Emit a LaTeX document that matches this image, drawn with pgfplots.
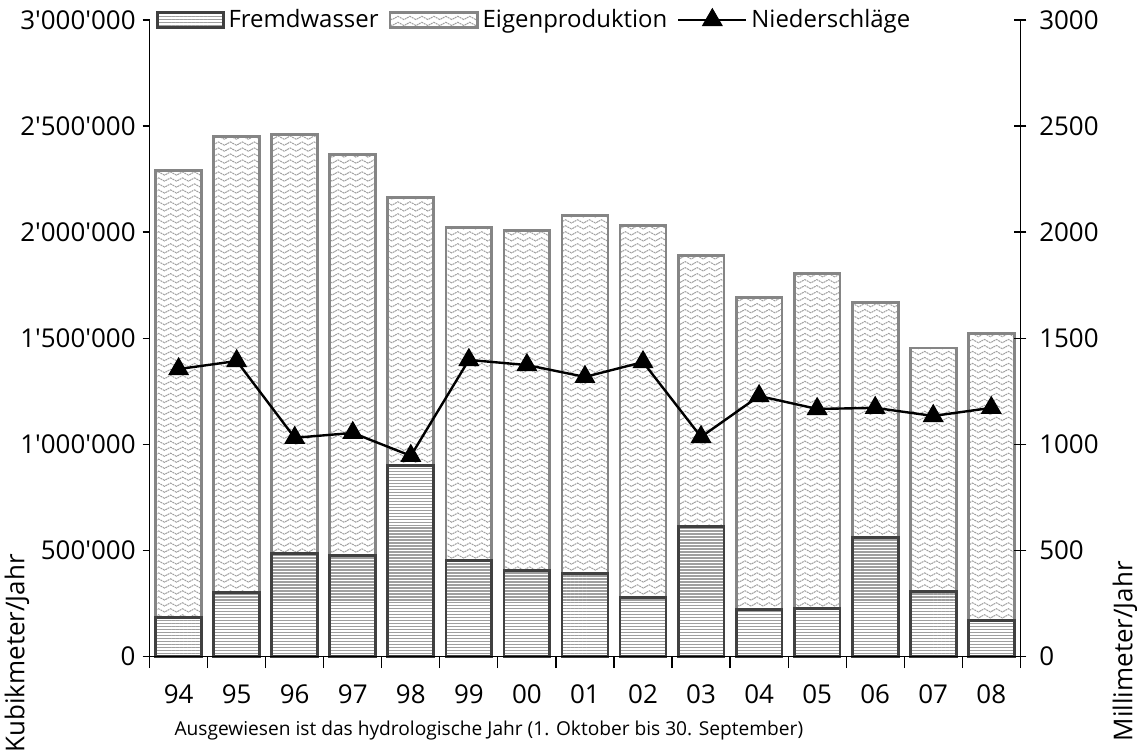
\documentclass[border=0pt]{standalone}
\usepackage{fontspec}
\setmainfont{Open Sans}
\usepackage{pgfplots}
\usepackage{pgfplotstable}
\pgfplotsset{compat=1.18}
\usetikzlibrary{patterns}

\pgfdeclarepatternformonly{hlinesfine}{\pgfpoint{-0.1pt}{-0.1pt}}{\pgfpoint{2.1pt}{1.6pt}}{\pgfpoint{2pt}{1.5pt}}{
  \pgfsetlinewidth{0.6pt}
  \pgfpathmoveto{\pgfpoint{-0.1pt}{0.75pt}}
  \pgfpathlineto{\pgfpoint{2.1pt}{0.75pt}}
  \pgfusepath{stroke}}

\pgfdeclarepatternformonly{wave}{\pgfpoint{-0.1pt}{-0.1pt}}{\pgfpoint{6.1pt}{3.1pt}}{\pgfpoint{6pt}{3pt}}{
  \pgfsetlinewidth{0.5pt}
  \pgfsetdash{{1pt}{0.4pt}}{0pt}
  \pgfpathmoveto{\pgfpoint{0pt}{1.5pt}}
  \pgfpathcurveto{\pgfpoint{1pt}{2.6pt}}{\pgfpoint{2pt}{2.6pt}}{\pgfpoint{3pt}{1.5pt}}
  \pgfpathcurveto{\pgfpoint{4pt}{0.4pt}}{\pgfpoint{5pt}{0.4pt}}{\pgfpoint{6pt}{1.5pt}}
  \pgfusepath{stroke}}

\definecolor{fremdc}{HTML}{404040}
\definecolor{eigenc}{HTML}{858585}

\pgfplotsset{lineleg/.style={legend image code/.code={\draw[mark repeat=2, mark phase=2, ##1] plot coordinates {(0pt,0pt) (17pt,0pt) (34pt,0pt)};}}}

\pgfplotstableread{
x fremd eigen nied
0 183000 2107000 1354
1 301000 2149000 1392
2 484000 1975000 1030
3 475000 1890000 1053
4 898000 1265000 945
5 451000 1571000 1397
6 404000 1604000 1373
7 390000 1688000 1317
8 277000 1754000 1387
9 611000 1279000 1034
10 221000 1472000 1227
11 226000 1580000 1166
12 560000 1109000 1171
13 306000 1147000 1133
14 169000 1354000 1171
}\data

\begin{document}
\begin{tikzpicture}[font=\fontsize{13}{15}\selectfont]
\begin{axis}[
  name=main,
  scale only axis, width=436.5pt, height=319pt,
  xmin=-0.5, xmax=14.5, ymin=0, ymax=3000000,
  axis x line*=bottom, axis y line*=left,
  ybar stacked, bar width=23pt,
  xtick={0,...,14},
  xticklabels={94,95,96,97,98,99,00,01,02,03,04,05,06,07,08},
  xtick style={draw=none},
  xticklabel style={yshift=-7pt},
  ytick={0,500000,...,3000000},
  scaled y ticks=false,
  yticklabel style={/pgf/number format/.cd, fixed, 1000 sep={\textquotesingle}, assume math mode=true},
  tick align=outside, major tick length=3.5pt,
  axis line style={black, line width=0.6pt},
  tick style={black, line width=0.6pt},
  clip=false,
]
\addplot[fill=white, draw=fremdc, line width=1.4pt, pattern=hlinesfine, pattern color=gray!75] table[x=x, y=fremd] {\data};
\addplot[fill=white, draw=eigenc, line width=1.4pt, pattern=wave, pattern color=gray!75] table[x=x, y=eigen] {\data};
\coordinate (bl) at (rel axis cs:0,0);
\coordinate (br) at (rel axis cs:1,0);
\coordinate (tr) at (rel axis cs:1,1);
\end{axis}
\begin{axis}[
  scale only axis, width=436.5pt, height=319pt,
  xmin=-0.5, xmax=14.5, ymin=0, ymax=3000,
  axis x line*=bottom, axis y line*=right,
  xtick={-0.5,0.5,...,14.5}, xticklabels={},
  ytick={0,500,...,3000},
  yticklabel style={/pgf/number format/.cd, 1000 sep={}, assume math mode=true},
  tick align=outside, major tick length=6pt,
  ytick style={xshift=-3pt},
  axis line style={black, line width=0.6pt},
  tick style={black, line width=0.6pt},
  legend style={at={(0.005,1)}, anchor=west, draw=none, fill=white,
    legend columns=-1, inner sep=1pt,
    /tikz/every even column/.append style={column sep=3pt},
    font=\fontsize{12}{14}\selectfont},
  legend cell align=left,
]
\addlegendimage{legend image code/.code={\draw[fill=white, draw=fremdc, line width=1.2pt, pattern=hlinesfine, pattern color=gray!75] (0pt,-3.8pt) rectangle (33pt,3.8pt);}}
\addlegendentry{Fremdwasser}
\addlegendimage{legend image code/.code={\draw[fill=white, draw=eigenc, line width=1.2pt, pattern=wave, pattern color=gray!75] (0pt,-3.8pt) rectangle (44pt,3.8pt);}}
\addlegendentry{Eigenproduktion}
\addplot[black, line width=1.2pt, mark=triangle*, mark size=5.5pt, mark options={line width=0.6pt}, lineleg]
  table[x=x, y=nied] {\data};
\addlegendentry{Niederschläge}
\end{axis}
\node[rotate=90, anchor=center] at ([shift={(-66.5pt,1.5pt)}]bl) {Kubikmeter/Jahr};
\node[rotate=90, anchor=center] at ([shift={(52.5pt,2.5pt)}]br) {Millimeter/Jahr};
\node[anchor=west, font=\fontsize{9.6}{11}\selectfont] at ([shift={(9pt,-37pt)}]bl) {Ausgewiesen ist das hydrologische Jahr (1. Oktober bis 30. September)};
\pgfresetboundingbox
\path ([shift={(-75pt,-47.5pt)}]bl) rectangle ([shift={(58.5pt,10pt)}]tr);
\end{tikzpicture}
\end{document}
